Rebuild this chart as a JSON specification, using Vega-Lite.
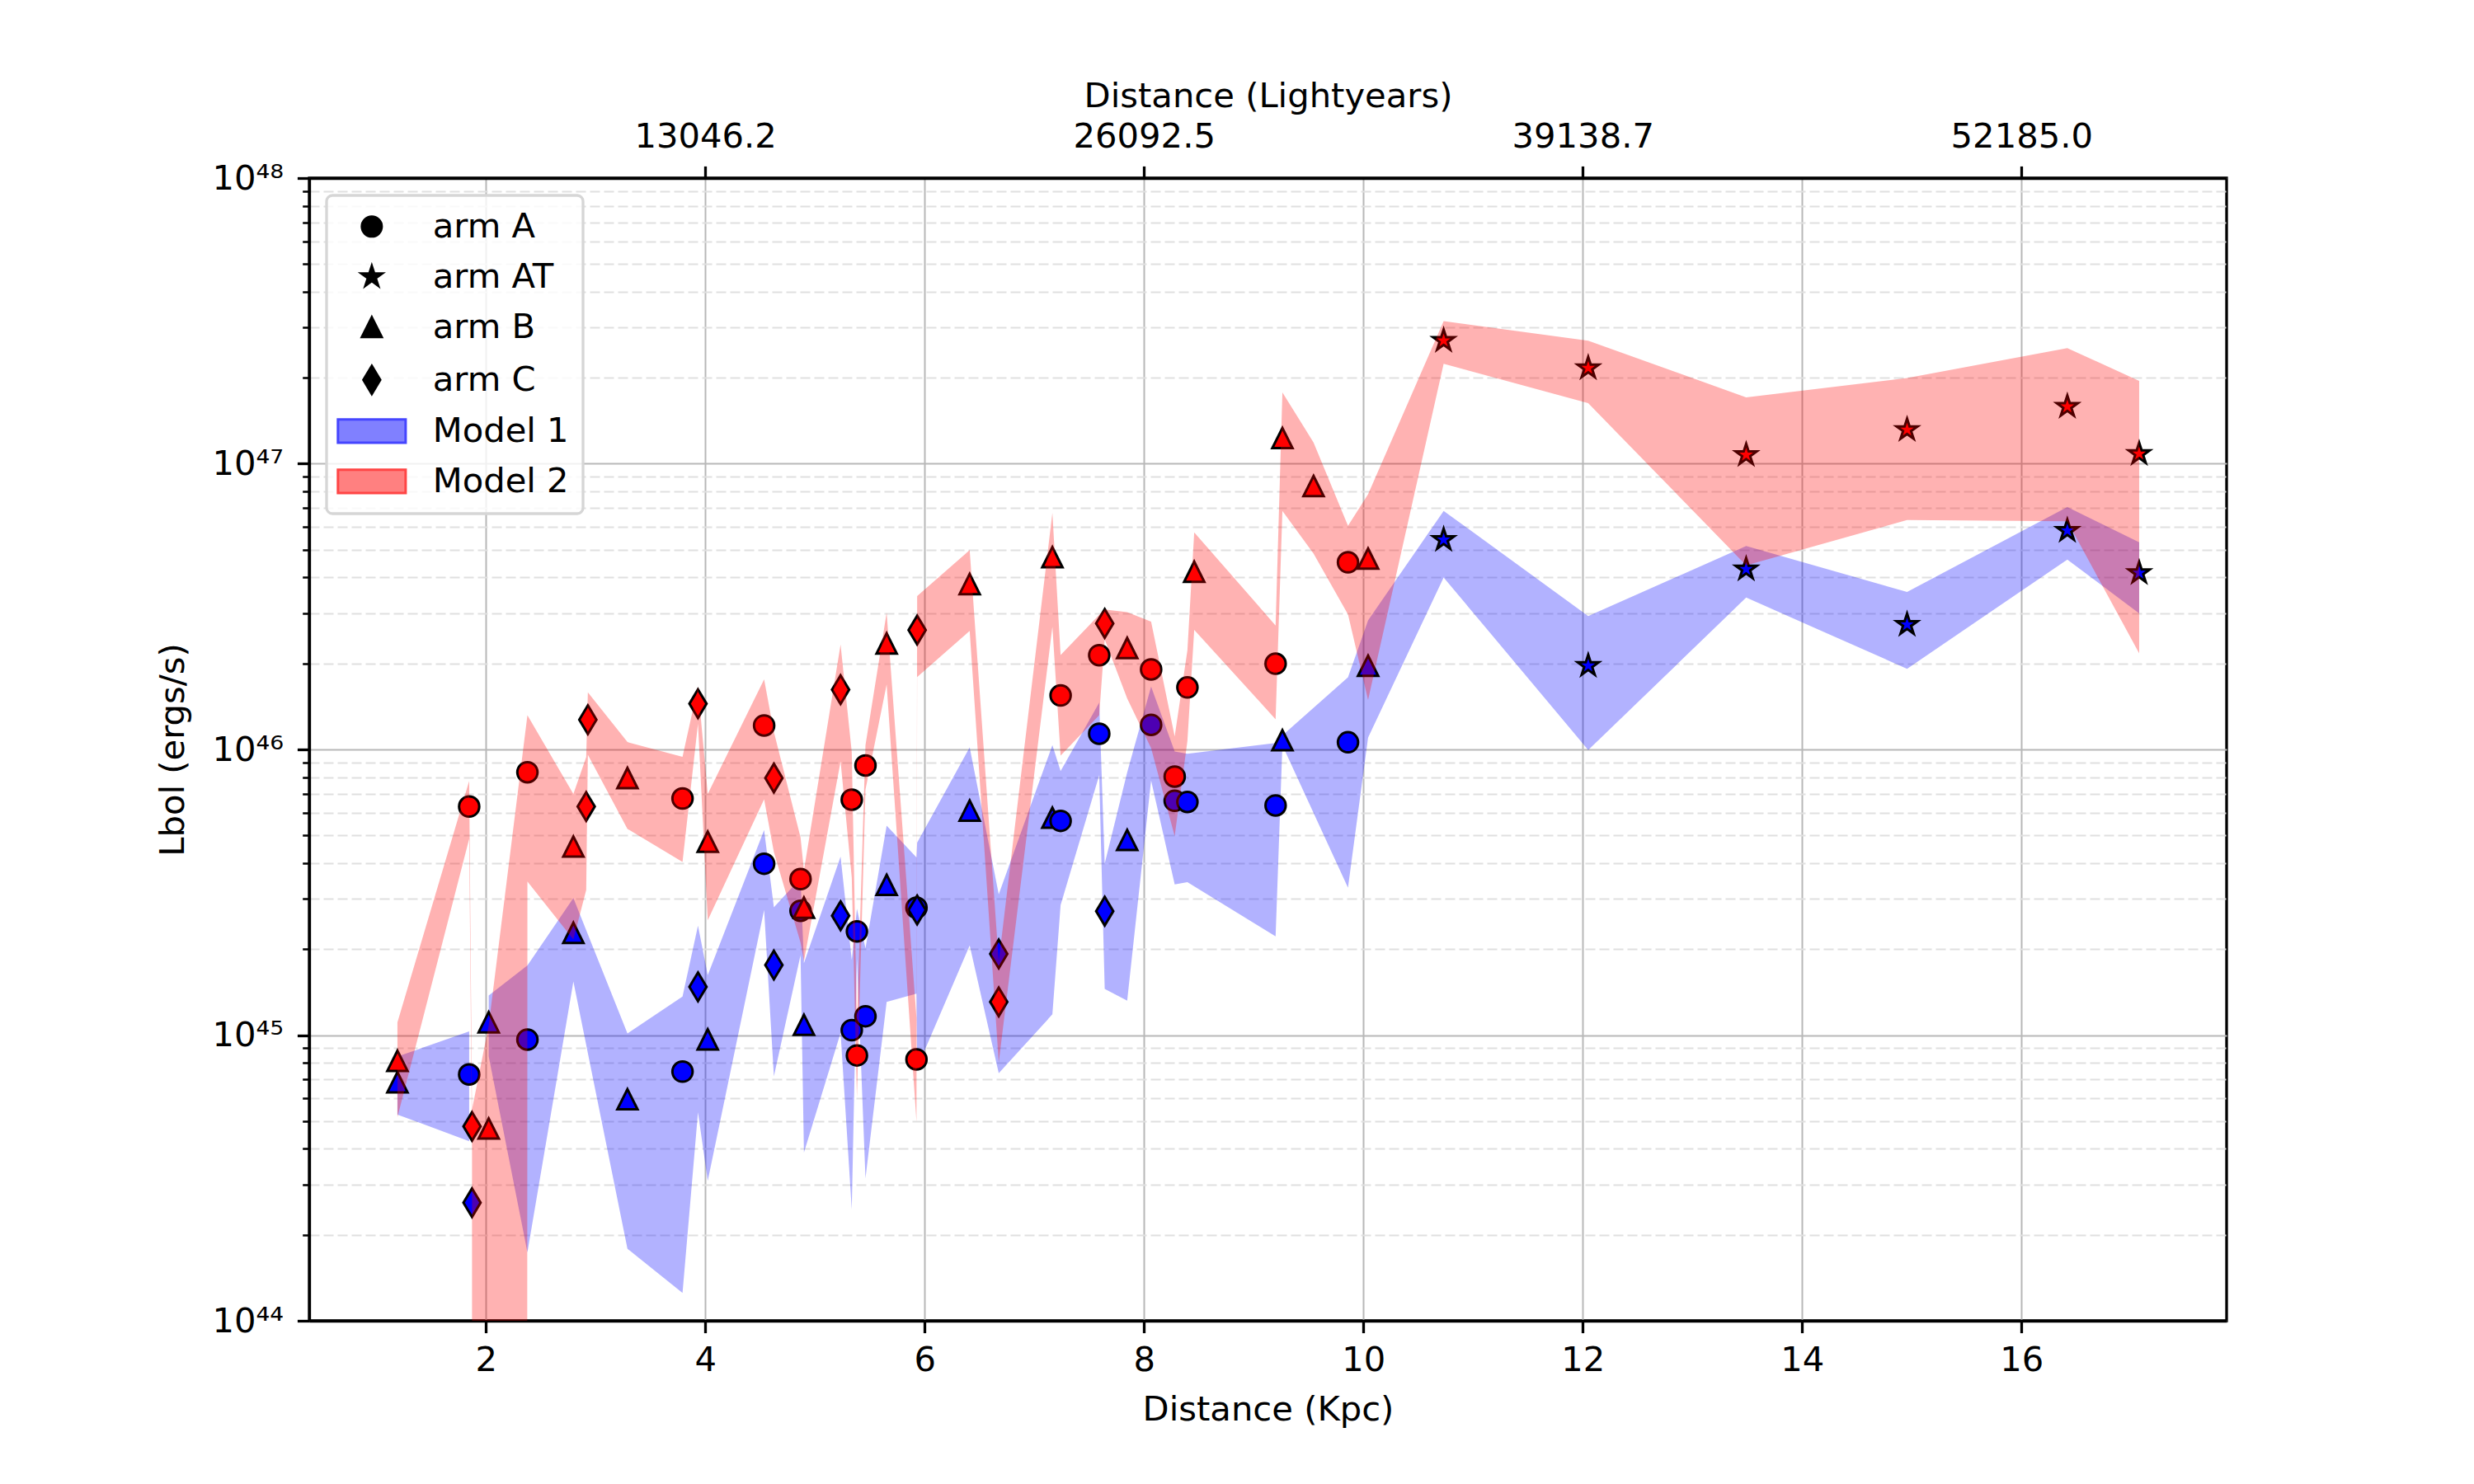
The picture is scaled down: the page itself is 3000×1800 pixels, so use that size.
{
  "$schema": "https://vega.github.io/schema/vega-lite/v6.json",
  "width": 2325,
  "height": 1386,
  "autosize": {"type": "none"},
  "padding": {"left": 375, "top": 216, "right": 300, "bottom": 198},
  "background": "white",
  "config": {
    "font": "DejaVu Sans",
    "view": {"stroke": "black", "strokeWidth": 3.3},
    "axis": {
      "labelFont": "DejaVu Sans", "titleFont": "DejaVu Sans",
      "labelFontSize": 41.7, "titleFontSize": 41.7, "titleFontWeight": "normal",
      "labelColor": "black", "titleColor": "black",
      "domainColor": "black", "domainWidth": 3.3,
      "tickColor": "black", "tickWidth": 3.3, "tickSize": 14.6,
      "gridColor": "#b8b8b8", "gridWidth": 2
    },
    "legend": {
      "orient": "top-left", "offset": 21, "padding": 17, "cornerRadius": 7,
      "strokeColor": "#d6d6d6", "strokeWidth": 3.3, "fillColor": "rgba(255,255,255,0.8)",
      "labelFont": "DejaVu Sans", "labelFontSize": 41.7, "labelColor": "black", "labelLimit": 500,
      "symbolSize": 576, "symbolStrokeWidth": 3, "symbolOffset": 17, "labelOffset": 53, "rowPadding": 18
    }
  },
  "datasets": {
    "m1": [
      {"d":1.194,"arm":"arm B","L":6.84e44,"lo":5.27e44,"hi":8.41e44},
      {"d":1.848,"arm":"arm A","L":7.28e44,"lo":4.25e44,"hi":1.031e45},
      {"d":1.874,"arm":"arm C","L":2.59e44,"lo":null,"hi":null},
      {"d":2.026,"arm":"arm B","L":1.109e45,"lo":8.43e44,"hi":1.375e45},
      {"d":2.379,"arm":"arm A","L":9.64e44,"lo":1.735e44,"hi":1.754e45},
      {"d":2.798,"arm":"arm B","L":2.28e45,"lo":1.539e45,"hi":3.021e45},
      {"d":3.291,"arm":"arm B","L":5.96e44,"lo":1.787e44,"hi":1.013e45},
      {"d":3.793,"arm":"arm A","L":7.45e44,"lo":1.251e44,"hi":1.364e45},
      {"d":3.934,"arm":"arm C","L":1.476e45,"lo":5.36e44,"hi":2.416e45},
      {"d":4.023,"arm":"arm B","L":9.66e44,"lo":3.09e44,"hi":1.623e45},
      {"d":4.537,"arm":"arm A","L":3.98e45,"lo":2.739e45,"hi":5.22e45},
      {"d":4.626,"arm":"arm C","L":1.758e45,"lo":7.17e44,"hi":2.799e45},
      {"d":4.869,"arm":"arm A","L":2.723e45,"lo":1.906e45,"hi":3.54e45},
      {"d":4.9,"arm":"arm B","L":1.086e45,"lo":3.88e44,"hi":1.785e45},
      {"d":5.234,"arm":"arm C","L":2.618e45,"lo":1.018e45,"hi":4.218e45},
      {"d":5.336,"arm":"arm A","L":1.04e45,"lo":2.454e44,"hi":1.834e45},
      {"d":5.383,"arm":"arm A","L":2.307e45,"lo":1.846e45,"hi":2.768e45},
      {"d":5.461,"arm":"arm A","L":1.164e45,"lo":3.15e44,"hi":2.013e45},
      {"d":5.654,"arm":"arm B","L":3.357e45,"lo":1.306e45,"hi":5.41e45},
      {"d":5.926,"arm":"arm A","L":2.793e45,"lo":1.397e45,"hi":4.19e45},
      {"d":5.932,"arm":"arm C","L":2.742e45,"lo":7.68e44,"hi":4.716e45},
      {"d":6.411,"arm":"arm B","L":6.109e45,"lo":2.059e45,"hi":1.016e46},
      {"d":6.676,"arm":"arm C","L":1.923e45,"lo":7.35e44,"hi":3.112e45},
      {"d":7.165,"arm":"arm B","L":5.768e45,"lo":1.182e45,"hi":1.035e46},
      {"d":7.24,"arm":"arm A","L":5.623e45,"lo":2.851e45,"hi":8.4e45},
      {"d":7.592,"arm":"arm A","L":1.135e46,"lo":8.12e45,"hi":1.458e46},
      {"d":7.642,"arm":"arm C","L":2.716e45,"lo":1.45e45,"hi":3.982e45},
      {"d":7.847,"arm":"arm B","L":4.819e45,"lo":1.32e45,"hi":8.32e45},
      {"d":8.065,"arm":"arm A","L":1.219e46,"lo":7.78e45,"hi":1.66e46},
      {"d":8.28,"arm":"arm A","L":6.607e45,"lo":3.37e45,"hi":9.84e45},
      {"d":8.396,"arm":"arm A","L":6.546e45,"lo":3.43e45,"hi":9.66e45},
      {"d":9.2,"arm":"arm A","L":6.368e45,"lo":2.216e45,"hi":1.052e46},
      {"d":9.262,"arm":"arm B","L":1.077e46,"lo":1.033e46,"hi":1.12e46},
      {"d":9.86,"arm":"arm A","L":1.059e46,"lo":3.28e45,"hi":1.79e46},
      {"d":10.043,"arm":"arm B","L":1.963e46,"lo":1.1e46,"hi":2.827e46},
      {"d":10.732,"arm":"arm AT","L":5.42e46,"lo":4.0e46,"hi":6.84e46},
      {"d":12.05,"arm":"arm AT","L":1.963e46,"lo":9.95e45,"hi":2.931e46},
      {"d":13.49,"arm":"arm AT","L":4.276e46,"lo":3.4e46,"hi":5.15e46},
      {"d":14.957,"arm":"arm AT","L":2.735e46,"lo":1.915e46,"hi":3.556e46},
      {"d":16.418,"arm":"arm AT","L":5.834e46,"lo":4.62e46,"hi":7.05e46},
      {"d":17.073,"arm":"arm AT","L":4.15e46,"lo":2.992e46,"hi":5.31e46}
    ],
    "m2": [
      {"d":1.194,"arm":"arm B","L":8.13e44,"lo":5.16e44,"hi":1.109e45},
      {"d":1.848,"arm":"arm A","L":6.31e45,"lo":4.86e45,"hi":7.76e45},
      {"d":1.874,"arm":"arm C","L":4.79e44,"lo":4.08e44,"hi":5.49e44},
      {"d":2.026,"arm":"arm B","L":4.71e44,"lo":1e-300,"hi":1.081e45},
      {"d":2.379,"arm":"arm A","L":8.32e45,"lo":3.45e45,"hi":1.318e46},
      {"d":2.798,"arm":"arm B","L":4.57e45,"lo":2.16e45,"hi":6.98e45},
      {"d":2.915,"arm":"arm C","L":6.31e45,"lo":3.22e45,"hi":9.4e45},
      {"d":2.93,"arm":"arm C","L":1.271e46,"lo":9.57e45,"hi":1.585e46},
      {"d":3.291,"arm":"arm B","L":7.94e45,"lo":5.27e45,"hi":1.061e46},
      {"d":3.793,"arm":"arm A","L":6.73e45,"lo":4.04e45,"hi":9.42e45},
      {"d":3.934,"arm":"arm C","L":1.445e46,"lo":1.23e46,"hi":1.661e46},
      {"d":4.023,"arm":"arm B","L":4.753e45,"lo":2.524e45,"hi":6.98e45},
      {"d":4.537,"arm":"arm A","L":1.213e46,"lo":6.69e45,"hi":1.758e46},
      {"d":4.626,"arm":"arm C","L":7.94e45,"lo":4.37e45,"hi":1.152e46},
      {"d":4.869,"arm":"arm A","L":3.516e45,"lo":2.11e45,"hi":4.92e45},
      {"d":4.9,"arm":"arm B","L":2.793e45,"lo":1.815e45,"hi":3.77e45},
      {"d":5.234,"arm":"arm C","L":1.618e46,"lo":9.08e45,"hi":2.328e46},
      {"d":5.336,"arm":"arm A","L":6.668e45,"lo":3.56e45,"hi":9.78e45},
      {"d":5.383,"arm":"arm A","L":8.49e44,"lo":6.03e44,"hi":1.095e45},
      {"d":5.461,"arm":"arm A","L":8.79e45,"lo":7.23e45,"hi":1.035e46},
      {"d":5.654,"arm":"arm B","L":2.35e46,"lo":1.687e46,"hi":3.013e46},
      {"d":5.926,"arm":"arm A","L":8.22e44,"lo":4.97e44,"hi":1.147e45},
      {"d":5.932,"arm":"arm C","L":2.618e46,"lo":1.793e46,"hi":3.443e46},
      {"d":6.411,"arm":"arm B","L":3.793e46,"lo":2.598e46,"hi":4.988e46},
      {"d":6.676,"arm":"arm C","L":1.306e45,"lo":8.02e44,"hi":1.81e45},
      {"d":7.165,"arm":"arm B","L":4.71e46,"lo":2.689e46,"hi":6.73e46},
      {"d":7.24,"arm":"arm A","L":1.545e46,"lo":9.52e45,"hi":2.139e46},
      {"d":7.592,"arm":"arm A","L":2.138e46,"lo":1.317e46,"hi":2.959e46},
      {"d":7.642,"arm":"arm C","L":2.761e46,"lo":2.43e46,"hi":3.092e46},
      {"d":7.847,"arm":"arm B","L":2.265e46,"lo":1.508e46,"hi":3.022e46},
      {"d":8.065,"arm":"arm A","L":1.905e46,"lo":1.01e46,"hi":2.801e46},
      {"d":8.28,"arm":"arm A","L":8.035e45,"lo":4.97e45,"hi":1.11e46},
      {"d":8.396,"arm":"arm A","L":1.648e46,"lo":1.071e46,"hi":2.225e46},
      {"d":8.458,"arm":"arm B","L":4.188e46,"lo":2.622e46,"hi":5.754e46},
      {"d":9.2,"arm":"arm A","L":1.995e46,"lo":1.275e46,"hi":2.716e46},
      {"d":9.262,"arm":"arm B","L":1.23e47,"lo":6.83e46,"hi":1.778e47},
      {"d":9.546,"arm":"arm B","L":8.356e46,"lo":4.85e46,"hi":1.187e47},
      {"d":9.86,"arm":"arm A","L":4.519e46,"lo":2.969e46,"hi":6.07e46},
      {"d":10.043,"arm":"arm B","L":4.656e46,"lo":1.49e46,"hi":7.82e46},
      {"d":10.732,"arm":"arm AT","L":2.698e47,"lo":2.239e47,"hi":3.157e47},
      {"d":12.05,"arm":"arm AT","L":2.163e47,"lo":1.629e47,"hi":2.697e47},
      {"d":13.49,"arm":"arm AT","L":1.074e47,"lo":4.41e46,"hi":1.707e47},
      {"d":14.957,"arm":"arm AT","L":1.315e47,"lo":6.35e46,"hi":1.995e47},
      {"d":16.418,"arm":"arm AT","L":1.585e47,"lo":6.29e46,"hi":2.541e47},
      {"d":17.073,"arm":"arm AT","L":1.084e47,"lo":2.17e46,"hi":1.951e47}
    ]
  },
  "resolve": {
    "scale": {"x": "shared", "y": "shared", "shape": "independent", "fill": "independent", "stroke": "independent"},
    "axis": {"x": "independent"},
    "legend": {"shape": "independent", "fill": "independent", "stroke": "independent"}
  },
  "layer": [
    {
      "data": {"name": "m1"},
      "mark": {"type": "area", "clip": true, "color": "#0000ff", "opacity": 0.3, "invalid": "break-paths-show-domains"},
      "encoding": {
        "x": {"field": "d", "type": "quantitative",
          "scale": {"domain": [0.39, 17.87], "nice": false, "zero": false},
          "axis": {"orient": "bottom", "values": [2, 4, 6, 8, 10, 12, 14, 16], "title": "Distance (Kpc)",
            "grid": true, "labelPadding": 13, "titlePadding": 18, "labelFlush": false}},
        "y": {"field": "hi", "type": "quantitative", "title": "Lbol (ergs/s)",
          "scale": {"type": "log", "domain": [1e44, 1e48], "nice": false},
          "axis": {
            "values": [1e44, 2e44, 3e44, 4e44, 5e44, 6e44, 7e44, 8e44, 9e44,
                       1e45, 2e45, 3e45, 4e45, 5e45, 6e45, 7e45, 8e45, 9e45,
                       1e46, 2e46, 3e46, 4e46, 5e46, 6e46, 7e46, 8e46, 9e46,
                       1e47, 2e47, 3e47, 4e47, 5e47, 6e47, 7e47, 8e47, 9e47, 1e48],
            "labelExpr": "datum.value == 1e44 ? '10⁴⁴' : datum.value == 1e45 ? '10⁴⁵' : datum.value == 1e46 ? '10⁴⁶' : datum.value == 1e47 ? '10⁴⁷' : datum.value == 1e48 ? '10⁴⁸' : ''",
            "grid": true,
            "gridColor": {"condition": {"test": "datum.value == 1e44 || datum.value == 1e45 || datum.value == 1e46 || datum.value == 1e47 || datum.value == 1e48", "value": "#b8b8b8"}, "value": "#e0e0e0"},
            "gridDash": {"condition": {"test": "datum.value == 1e44 || datum.value == 1e45 || datum.value == 1e46 || datum.value == 1e47 || datum.value == 1e48", "value": []}, "value": [12, 5]},
            "tickSize": {"condition": {"test": "datum.value == 1e44 || datum.value == 1e45 || datum.value == 1e46 || datum.value == 1e47 || datum.value == 1e48", "value": 14.6}, "value": 8.3},
            "tickWidth": {"condition": {"test": "datum.value == 1e44 || datum.value == 1e45 || datum.value == 1e46 || datum.value == 1e47 || datum.value == 1e48", "value": 3.3}, "value": 2.5},
            "labelPadding": 17, "titlePadding": 25
          }},
        "y2": {"field": "lo"}
      }
    },
    {
      "data": {"name": "m1"},
      "mark": {"type": "point", "filled": true, "color": "#0000ff", "stroke": "black", "strokeWidth": 3, "size": 600, "opacity": 1},
      "encoding": {
        "x": {"field": "d", "type": "quantitative", "scale": {"domain": [0.39, 17.87], "nice": false, "zero": false}, "axis": null},
        "y": {"field": "L", "type": "quantitative", "title": "Lbol (ergs/s)", "scale": {"type": "log", "domain": [1e44, 1e48], "nice": false}},
        "shape": {"field": "arm", "type": "nominal",
          "scale": {"domain": ["arm A", "arm AT", "arm B", "arm C"],
            "range": ["circle",
              "M0,-1.1L0.247,-0.34L1.046,-0.34L0.4,0.13L0.647,0.89L0,0.42L-0.647,0.89L-0.4,0.13L-1.046,-0.34L-0.247,-0.34Z",
              "M0,-1L1,1L-1,1Z",
              "M0,-1.414L0.849,0L0,1.414L-0.849,0Z"]},
          "legend": null}
      }
    },
    {
      "data": {"name": "m2"},
      "mark": {"type": "point", "filled": true, "color": "#ff0000", "stroke": "black", "strokeWidth": 3, "size": 600, "opacity": 1},
      "encoding": {
        "x": {"field": "d", "type": "quantitative", "scale": {"domain": [0.39, 17.87], "nice": false, "zero": false}, "axis": null},
        "y": {"field": "L", "type": "quantitative", "title": "Lbol (ergs/s)", "scale": {"type": "log", "domain": [1e44, 1e48], "nice": false}},
        "shape": {"field": "arm", "type": "nominal",
          "scale": {"domain": ["arm A", "arm AT", "arm B", "arm C"],
            "range": ["circle",
              "M0,-1.1L0.247,-0.34L1.046,-0.34L0.4,0.13L0.647,0.89L0,0.42L-0.647,0.89L-0.4,0.13L-1.046,-0.34L-0.247,-0.34Z",
              "M0,-1L1,1L-1,1Z",
              "M0,-1.414L0.849,0L0,1.414L-0.849,0Z"]},
          "legend": null}
      }
    },
    {
      "data": {"name": "m2"},
      "mark": {"type": "area", "clip": true, "color": "#ff0000", "opacity": 0.3, "invalid": "break-paths-show-domains"},
      "encoding": {
        "x": {"field": "d", "type": "quantitative",
          "scale": {"domain": [0.39, 17.87], "nice": false, "zero": false},
          "axis": {"orient": "top", "values": [4, 8, 12, 16], "title": "Distance (Lightyears)",
            "labelExpr": "format(datum.value * 3261.56, '.1f')",
            "grid": false, "labelPadding": 14, "titlePadding": 7, "labelFlush": false}},
        "y": {"field": "hi", "type": "quantitative", "title": "Lbol (ergs/s)", "scale": {"type": "log", "domain": [1e44, 1e48], "nice": false}},
        "y2": {"field": "lo"}
      }
    },
    {
      "data": {"name": "m1"},
      "transform": [{"filter": "false"}],
      "mark": {"type": "point", "filled": true, "strokeWidth": 3, "size": 576, "opacity": 1},
      "encoding": {
        "shape": {"field": "arm", "type": "nominal",
          "scale": {"domain": ["arm A", "arm AT", "arm B", "arm C", "Model 1", "Model 2"],
            "range": ["circle",
              "M0,-1.1L0.247,-0.34L1.046,-0.34L0.4,0.13L0.647,0.89L0,0.42L-0.647,0.89L-0.4,0.13L-1.046,-0.34L-0.247,-0.34Z",
              "M0,-1L1,1L-1,1Z",
              "M0,-1.414L0.849,0L0,1.414L-0.849,0Z",
              "M-3.42,-1.17H3.42V1.17H-3.42Z",
              "M-3.42,-1.17H3.42V1.17H-3.42Z"]},
          "legend": {"title": null}},
        "fill": {"field": "arm", "type": "nominal",
          "scale": {"domain": ["arm A", "arm AT", "arm B", "arm C", "Model 1", "Model 2"],
            "range": ["#000000", "#000000", "#000000", "#000000", "#8080ff", "#ff8080"]},
          "legend": {"title": null}},
        "stroke": {"field": "arm", "type": "nominal",
          "scale": {"domain": ["arm A", "arm AT", "arm B", "arm C", "Model 1", "Model 2"],
            "range": ["#000000", "#000000", "#000000", "#000000", "#4545ff", "#ff4545"]},
          "legend": {"title": null}}
      }
    }
  ]
}
